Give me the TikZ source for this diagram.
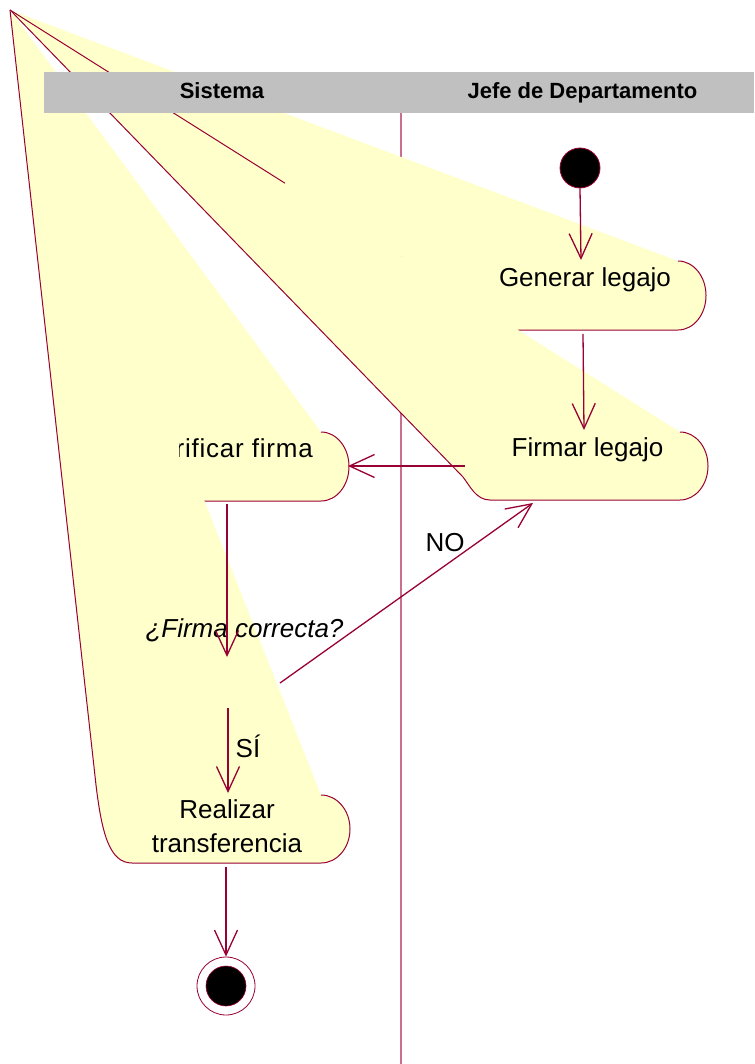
\documentclass[tikz,border=0pt]{standalone}
\usepackage{fontspec}
\setmainfont{Liberation Sans}
\newfontfamily\spacedfont{Liberation Sans}[LetterSpace=3]
\usetikzlibrary{arrows.meta}
\definecolor{rosered}{HTML}{990033}
\definecolor{lanepink}{HTML}{C86E8F}
\definecolor{actyellow}{HTML}{FFFFCC}
\definecolor{hdrgray}{HTML}{C0C0C0}

\begin{document}
\begin{tikzpicture}[x=1pt,y=-1pt,
  actfill/.style={fill=actyellow},
  actline/.style={draw=rosered, line width=1pt},
  flow/.style={draw=rosered, line width=1.3pt, -{Straight Barb[length=25pt,width=23pt]}},
  lbl/.style={inner sep=0pt, font=\fontsize{26}{34}\selectfont},
  hdr/.style={inner sep=0pt, font=\fontsize{22}{26}\selectfont\bfseries},
  lane/.style={draw=lanepink, line width=1.4pt},
]
\useasboundingbox (0,0) rectangle (754,1064);

% common corner point of the activity outlines
\coordinate (apex) at (10,10);

% swimlane divider
\coordinate (laneTop) at (401,113);
\coordinate (laneBot) at (401,1064);
\draw[lane] (laneTop) -- (laneBot);

% activity: Generar legajo
\fill[actfill] (apex) -- (678,261) .. controls (693.5,261) and (706,276.4) .. (706,295.5)
  .. controls (706,314.6) and (693.5,330) .. (678,330) -- (518,330) -- cycle;
\draw[actline] (678,261) .. controls (693.5,261) and (706,276.4) .. (706,295.5)
  .. controls (706,314.6) and (693.5,330) .. (678,330) -- (518,330);

% activity: Firmar legajo
\fill[actfill] (apex) -- (680,432) .. controls (695.5,432) and (708,447.2) .. (708,466)
  .. controls (708,484.8) and (695.5,500) .. (680,500) -- (490,500)
  .. controls (476,500) and (470,486) .. (463,477) -- cycle;
\draw[actline] (680,432) .. controls (695.5,432) and (708,447.2) .. (708,466)
  .. controls (708,484.8) and (695.5,500) .. (680,500) -- (490,500)
  .. controls (476,500) and (470,486) .. (463,477) -- (apex);

% activity: Verificar firma
\fill[actfill] (apex) -- (321,432) .. controls (336.5,432) and (349,447.4) .. (349,466.5)
  .. controls (349,485.6) and (336.5,501) .. (321,501) -- (204,501) -- cycle;
\draw[actline] (321,432) .. controls (336.5,432) and (349,447.4) .. (349,466.5)
  .. controls (349,485.6) and (336.5,501) .. (321,501) -- (204,501);

% activity: Realizar transferencia
\fill[actfill] (apex) -- (321,795) .. controls (337,795) and (350,810.2) .. (350,829)
  .. controls (350,847.8) and (337,863) .. (321,863) -- (132,863)
  .. controls (110,863) and (102,835) .. (96,785) -- cycle;
\draw[actline] (321,795) .. controls (337,795) and (350,810.2) .. (350,829)
  .. controls (350,847.8) and (337,863) .. (321,863) -- (132,863)
  .. controls (110,863) and (102,835) .. (96,785) -- (apex);

% visible part of the lower edge of "Generar legajo"
\draw[actline] (apex) -- (285,183.2);

% swimlane header
\node[fill=hdrgray, minimum width=710, minimum height=41, inner sep=0pt, anchor=north west] (band) at (44,72) {};
\node[hdr, anchor=base] (laneSistema) at (222,99) {Sistema};
\node[hdr, anchor=base] (laneJefe) at (582.5,99) {Jefe de Departamento};

% initial and final states
\node[circle, fill=black, draw=rosered, line width=0.8pt, minimum size=40pt, inner sep=0pt] (start) at (580,168) {};
\node[circle, fill=white, draw=rosered, line width=0.8pt, minimum size=58pt, inner sep=0pt] (final) at (226,986) {};
\node[circle, fill=black, draw=rosered, line width=0.6pt, minimum size=40pt, inner sep=0pt] (finalcore) at (final.center) {};

% activity texts
\node[lbl, anchor=base] (genlbl) at (585,287) {Generar legajo};
\node[lbl, anchor=base] (firmlbl) at (587.5,456) {Firmar legajo};
\begin{scope}
  \clip (179.5,400) rectangle (360,480);
  \node[lbl, anchor=base east] (verlbl) at (313,457) {\spacedfont Verificar firma};
\end{scope}
\node[lbl, align=center] (reallbl) at (227,826.5) {Realizar\\transferencia};
\node[inner sep=0pt, font=\fontsize{26}{34}\selectfont\itshape, anchor=base] (guard) at (244.5,637) {¿Firma correcta?};
\node[lbl, anchor=base] (nolbl) at (445,551) {NO};
\node[lbl, anchor=base] (silbl) at (248,757) {SÍ};

% connector end points
\coordinate (genIn) at (581,260);
\coordinate (genOut) at (583,334);
\coordinate (firmIn) at (584,430);
\coordinate (firmOut) at (465,466);
\coordinate (verIn) at (348,466);
\coordinate (verOut) at (227,504);
\coordinate (decIn) at (227,657);
\coordinate (decNo) at (280,683);
\coordinate (firmNoIn) at (533,503);
\coordinate (decYes) at (228,708);
\coordinate (realIn) at (228,793);
\coordinate (realOut) at (226,867);

% transitions
\draw[flow] (start.south) -- (genIn);
\draw[flow] (genOut) -- (firmIn);
\draw[flow] (firmOut) -- (verIn);
\draw[flow] (verOut) -- (decIn);
\draw[flow] (decNo) -- (firmNoIn);
\draw[flow] (decYes) -- (realIn);
\draw[flow] (realOut) -- (final.north);
\end{tikzpicture}
\end{document}
